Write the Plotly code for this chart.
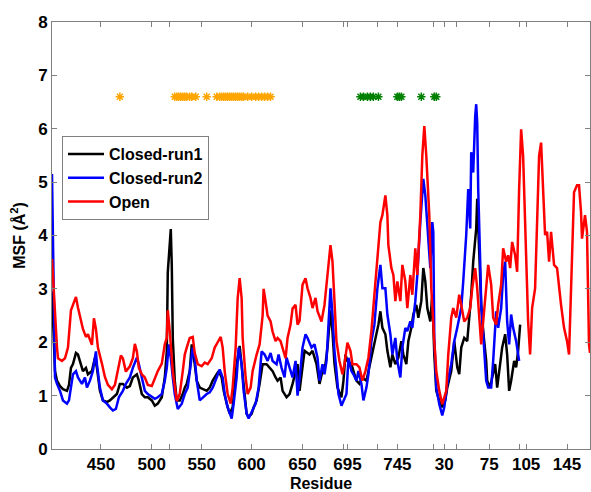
import plotly.graph_objects as go

# sequential residue index (position along the concatenated chains) and MSF values
red_idx = [0,3,5,6,10,13,16,19,21,24,26,28,31,34,36,40,42,44,46,50,53,56,60,63,66,69,71,74,78,81,83,85,87,90,93,96,100,103,106,110,113,115,116,118,120,121,125,128,131,133,135,138,141,143,146,150,153,156,160,163,166,169,171,173,176,179,181,184,186,188,190,191,194,196,199,201,205,208,211,212,214,216,219,221,224,226,229,231,234,236,239,241,244,246,248,251,254,256,259,261,264,266,270,273,276,279,281,283,285,288,291,293,296,299,301,305,308,311,314,317,320,323,326,329,331,334,336,337,340,342,344,346,349,351,354,356,359,361,364,366,369,371,373,375,378,380,383,385,388,391,395,397,400,402,405,408,410,413,416,419,421,424,426,428,430,432,435,437,440,442,445,447,450,452,455,457,459,461,464,466,468,470,472,475,477,479,481,484,486,488,490,492,494,496,498,500,503,506,508,510,513,516,518,520,523,526,528,530,531,534,536,538,539]
red_msf = [3.56,2.4,1.9,1.7,1.65,1.7,1.9,2.6,2.7,2.85,2.65,2.5,2.25,2.1,2.15,1.95,2.45,2.25,1.9,1.6,1.35,1.2,1.12,1.2,1.45,1.75,1.7,1.45,1.55,1.7,1.97,1.83,1.52,1.4,1.34,1.2,1.18,1.34,1.46,1.6,1.96,2.08,2.6,2.2,1.77,1.46,0.9,1.03,1.46,1.77,1.9,2.08,2.1,1.8,1.59,1.55,1.62,1.59,1.7,1.9,2.0,2.1,1.9,1.46,1.03,0.85,1.15,1.9,2.82,3.2,2.82,2.08,1.34,1.03,1.15,1.46,1.77,1.96,2.5,3.0,2.76,2.5,2.39,2.2,2.02,2.08,2.02,1.9,1.7,2.08,2.33,2.63,2.7,2.33,2.4,3.08,3.2,3.01,2.83,2.64,2.83,2.58,2.39,2.7,3.26,3.82,3.51,2.64,2.02,1.65,1.4,1.59,1.99,1.84,1.59,1.59,1.53,1.28,1.46,1.71,2.21,2.89,3.63,4.25,4.38,4.75,4.38,3.82,3.39,3.26,2.77,3.14,2.77,3.45,3.14,2.64,3.26,2.89,3.76,3.26,4.38,5.49,6.05,5.49,4.38,3.01,2.02,1.46,1.09,0.84,1.09,1.77,2.46,2.64,2.46,2.89,2.7,2.39,2.46,2.64,3.01,3.39,3.01,2.52,1.96,2.39,3.01,3.45,3.08,2.46,2.33,2.7,3.08,3.76,3.51,3.63,3.39,3.88,3.63,3.32,4.87,5.99,5.49,3.63,2.39,1.77,2.64,3.01,4.13,5.49,5.74,4.87,4.01,4.07,3.51,4.07,3.45,3.39,3.01,2.7,2.27,2.02,1.77,2.89,4.81,4.94,4.94,4.44,3.94,4.38,4.07,1.96,1.8]

black_idx = [0,3,5,8,11,15,17,19,21,24,26,29,31,34,36,40,43,45,48,51,55,58,61,65,68,71,75,78,81,85,87,90,93,96,100,103,106,110,113,115,116,118,119,120,121,123,125,128,131,133,135,138,140,143,145,148,151,155,158,161,165,167,170,172,175,178,181,183,185,188,190,192,195,197,200,202,205,208,211,215,218,221,224,226,229,231,235,238,241,244,246,248,253,258,261,265,268,271,274,276,279,281,283,286,290,292,294,296,300,303,305,308,311,315,318,321,325,327,329,331,334,336,339,341,344,347,350,352,355,357,360,362,365,367,370,372,374,376,379,381,383,385,388,391,394,396,400,403,406,408,410,413,416,418,420,422,425,426,428,430,432,435,436,439,441,444,446,449,451,454,456,458,460,463,465,467,469]
black_msf = [2.95,1.46,1.28,1.18,1.12,1.09,1.2,1.52,1.59,1.8,1.77,1.59,1.46,1.52,1.4,1.46,1.71,1.52,1.09,0.91,0.88,0.91,0.97,1.03,1.22,1.22,1.15,1.18,1.34,1.4,1.28,1.03,0.97,0.97,0.91,0.81,0.85,0.97,1.34,1.83,3.31,3.9,4.12,3.44,2.08,1.28,0.91,0.91,1.03,1.15,1.22,1.46,1.96,1.59,1.28,1.15,1.12,1.09,1.15,1.28,1.4,1.46,1.34,1.09,0.85,0.66,0.78,1.22,1.59,1.93,1.59,1.15,0.66,0.6,0.66,0.78,0.91,1.22,1.59,1.59,1.52,1.46,1.34,1.28,1.34,1.09,0.97,1.03,1.22,1.46,1.59,1.09,1.84,1.77,1.84,1.59,1.22,1.46,1.59,1.9,2.6,2.2,1.6,1.15,0.97,1.28,1.77,1.65,1.59,1.4,1.28,1.22,1.34,1.28,1.53,1.77,2.15,2.33,2.58,2.27,2.15,1.84,1.53,1.77,1.59,1.71,2.02,1.77,1.59,2.02,2.27,2.52,2.7,2.46,2.77,3.39,3.14,2.64,2.39,2.89,1.77,1.09,0.91,0.78,0.91,1.15,1.46,2.02,1.53,1.4,1.9,2.08,2.02,2.39,2.89,3.51,4.13,4.69,3.63,2.7,2.21,1.65,1.28,1.15,1.34,1.59,1.15,1.65,1.9,2.15,1.77,1.09,1.28,1.65,1.53,1.84,2.33]

blue_idx = [0,1,3,5,8,11,15,17,19,21,24,26,30,33,35,38,41,44,45,48,51,55,58,61,64,67,71,74,78,81,85,87,90,93,96,100,103,106,110,113,115,117,119,121,123,126,130,133,136,139,141,143,145,148,151,155,158,161,165,168,171,173,176,180,182,185,187,190,192,195,197,201,204,207,210,213,216,219,221,225,227,230,233,235,238,241,244,246,248,251,254,256,260,263,266,268,271,273,275,277,279,281,283,285,287,290,292,295,297,300,302,305,307,310,312,315,317,320,323,326,329,331,334,336,339,341,344,346,349,351,354,356,359,361,364,366,369,371,372,374,376,379,381,382,383,385,388,391,393,396,400,403,406,410,412,415,417,419,420,422,424,425,426,427,429,430,432,435,437,440,442,445,447,450,452,454,456,458,460,462,465,466,468]
blue_msf = [5.15,3.9,1.34,1.22,1.09,0.91,0.85,0.91,1.15,1.4,1.46,1.34,1.22,1.34,1.15,1.28,1.46,1.83,1.59,1.15,0.91,0.85,0.78,0.72,0.75,0.97,1.09,1.22,1.34,1.52,1.71,1.59,1.34,1.09,1.03,0.97,0.94,0.97,1.03,1.28,1.52,1.96,1.71,1.34,1.03,0.75,0.85,1.03,1.15,1.59,1.9,1.71,1.28,0.91,0.97,1.03,1.06,1.15,1.34,1.49,1.34,1.03,0.78,0.57,0.85,1.34,1.9,1.59,1.09,0.66,0.57,0.72,0.85,1.15,1.83,1.77,1.65,1.8,1.65,1.59,1.77,1.52,1.34,1.71,1.52,1.34,1.65,1.0,1.3,1.9,2.15,2.08,1.9,1.96,1.71,1.28,1.59,1.4,1.65,2.39,3.01,2.52,1.84,1.46,1.03,0.81,0.91,1.03,1.71,1.46,1.4,1.28,1.46,1.22,0.91,1.15,1.4,2.02,2.33,3.01,3.45,3.01,3.01,2.52,2.15,1.77,2.08,1.65,1.34,1.9,2.27,2.21,2.39,2.27,2.77,3.26,4.25,4.69,5.06,4.75,4.13,3.39,4.25,4.07,2.08,1.15,0.84,0.63,0.78,1.22,1.59,2.02,2.27,2.64,3.14,4.01,4.87,4.13,5.56,5.18,6.24,6.46,6.11,4.87,3.51,2.7,2.15,1.28,1.15,1.15,1.65,2.58,2.27,2.64,3.26,3.51,2.39,1.96,2.52,2.27,2.02,1.9,1.65]

# marked residues (asterisks)
orange_idx = [68,123,125,127,129,131,133,135,138,140,144,155,165,168,170,172,174,176,178,180,182,184,186,188,190,192,196,200,204,207,210,213,216,219]
green_idx = [309,312,316,319,322,327,346,348,350,370,383,385]
star_level = 6.6

# x-axis tick labels (residue numbers, numbering restarts between chains)
tick_pos = [49,100,150,200,251,296,346,393,438,475,516]
tick_lab = ["450","500","550","600","650","695","745","30","75","105","145"]
# unlabelled ticks marking chain / domain boundaries
minor_pos = [118,292,326,382,405,468]

font_fam = "Liberation Sans, Arial, sans-serif"

fig = go.Figure()
fig.add_trace(go.Scatter(x=black_idx, y=black_msf, mode="lines", name="Closed-run1",
                         line=dict(color="#000000", width=2.5)))
fig.add_trace(go.Scatter(x=blue_idx, y=blue_msf, mode="lines", name="Closed-run2",
                         line=dict(color="#0000FF", width=2.5)))
fig.add_trace(go.Scatter(x=red_idx, y=red_msf, mode="lines", name="Open",
                         line=dict(color="#FF0000", width=2.5)))
fig.add_trace(go.Scatter(x=orange_idx, y=[star_level]*len(orange_idx), mode="markers",
                         showlegend=False,
                         marker=dict(symbol="asterisk-open", size=7, color="#FFA500",
                                     line=dict(color="#FFA500", width=1.5))))
fig.add_trace(go.Scatter(x=green_idx, y=[star_level]*len(green_idx), mode="markers",
                         showlegend=False,
                         marker=dict(symbol="asterisk-open", size=7, color="#008000",
                                     line=dict(color="#008000", width=1.5))))
# invisible trace so the overlay axis carrying the unlabelled ticks is drawn
fig.add_trace(go.Scatter(x=[minor_pos[0]], y=[None], mode="lines", xaxis="x2",
                         showlegend=False, hoverinfo="skip"))

axis_common = dict(showline=True, linecolor="#808080", linewidth=1, mirror="ticks",
                   ticks="inside", ticklen=5, tickcolor="#808080", showgrid=False,
                   zeroline=False)

fig.update_layout(
    width=591, height=492,
    margin=dict(l=52, r=0, t=22, b=40),
    paper_bgcolor="white", plot_bgcolor="white",
    font=dict(family=font_fam, color="black", size=16, weight="bold"),
    xaxis=dict(range=[0, 539], tickvals=tick_pos, ticktext=tick_lab,
               tickfont=dict(size=17, weight="bold"),
               title=dict(text="Residue", font=dict(size=16, weight="bold"), standoff=6),
               **axis_common),
    xaxis2=dict(range=[0, 539], overlaying="x", side="bottom", tickvals=minor_pos,
                showticklabels=False, **axis_common),
    yaxis=dict(range=[0, 8], tickvals=list(range(0, 9)),
               tickfont=dict(size=17, weight="bold"),
               title=dict(text="MSF (Å<sup>2</sup>)", font=dict(size=16, weight="bold"), standoff=8),
               **axis_common),
    legend=dict(x=0.0186, y=0.733, xanchor="left", yanchor="top",
                bgcolor="white", bordercolor="#808080", borderwidth=1,
                font=dict(size=16, weight="bold"), tracegroupgap=0, itemwidth=36),
    showlegend=True,
)

fig.write_html("out.html")
